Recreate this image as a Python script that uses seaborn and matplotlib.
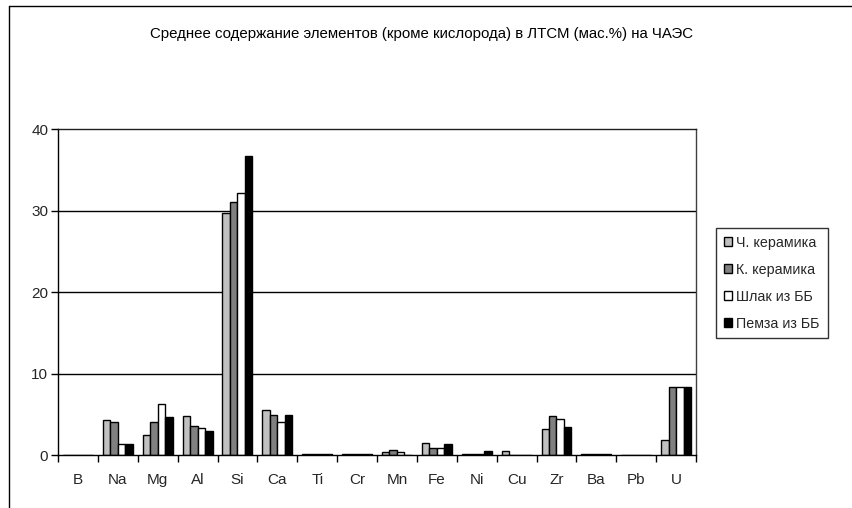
import matplotlib
matplotlib.use("Agg")
import matplotlib.pyplot as plt
from matplotlib.lines import Line2D
from matplotlib.ticker import FixedLocator, NullFormatter
import seaborn as sns
import pandas as pd

# Element composition, mass %
elements = ["B", "Na", "Mg", "Al", "Si", "Ca", "Ti", "Cr", "Mn", "Fe",
            "Ni", "Cu", "Zr", "Ba", "Pb", "U"]
ch_ceramics = [0, 4.3, 2.5, 4.8, 29.7, 5.5, 0.15, 0.15, 0.4, 1.45, 0.15, 0.55, 3.2, 0.15, 0, 1.8]
k_ceramics = [0, 4.1, 4.1, 3.55, 31.0, 4.85, 0.15, 0.15, 0.6, 0.9, 0.15, 0, 4.8, 0.15, 0, 8.4]
slag_bb = [0, 1.4, 6.25, 3.35, 32.2, 4.1, 0.15, 0.15, 0.4, 0.9, 0.15, 0, 4.45, 0.15, 0, 8.4]
pumice_bb = [0, 1.4, 4.65, 2.9, 36.7, 4.85, 0.15, 0.15, 0, 1.3, 0.45, 0, 3.4, 0.15, 0, 8.4]

series_names = ["Ч. керамика", "К. керамика", "Шлак из ББ", "Пемза из ББ"]
series_colors = ["#C0C0C0", "#808080", "#FFFFFF", "#000000"]
y_ticks = [0, 10, 20, 30, 40]

frames = []
for name, vals in zip(series_names, [ch_ceramics, k_ceramics, slag_bb, pumice_bb]):
    frames.append(pd.DataFrame({"element": elements, "value": vals, "series": name}))
df = pd.concat(frames, ignore_index=True)

sns.set_theme(style="white")
plt.rcParams["font.family"] = ["Liberation Sans", "DejaVu Sans"]

fig = plt.figure(figsize=(8.53, 5.08), dpi=100)
ax = fig.add_axes([0.068, 0.1043, 0.748, 0.6417])

sns.barplot(data=df, x="element", y="value", hue="series", order=elements,
            hue_order=series_names, palette=series_colors, width=0.75,
            edgecolor="black", linewidth=1.0, saturation=1, ax=ax)

ax.set_xlim(-0.5, len(elements) - 0.5)
ax.set_ylim(0, 40)
ax.set_yticks(y_ticks)
ax.set_yticklabels([str(v) for v in y_ticks], fontsize=11)
ax.set_xlabel("")
ax.set_ylabel("")

# Category labels centred, tick marks between categories
ax.set_xticks(range(len(elements)))
ax.set_xticklabels(elements, fontsize=11)
ax.tick_params(axis="x", which="major", length=0, pad=13)
ax.xaxis.set_minor_locator(FixedLocator([i + 0.5 for i in range(-1, len(elements))]))
ax.xaxis.set_minor_formatter(NullFormatter())
ax.tick_params(axis="x", which="minor", bottom=True, length=5, width=1, color="black", direction="out")
ax.tick_params(axis="y", left=True, length=5, width=1, color="black", direction="out", pad=2)

for v in y_ticks[1:-1]:
    ax.axhline(v, color="black", linewidth=1.0, zorder=0)

for side in ["left", "right", "top", "bottom"]:
    ax.spines[side].set_visible(True)
    ax.spines[side].set_color("black")
    ax.spines[side].set_linewidth(1.0)
ax.spines["right"].set_color("#404040")
ax.spines["top"].set_color("#202020")

ax.set_title("")
fig.text(0.494, 0.934, "Среднее содержание элементов (кроме кислорода) в ЛТСМ (мас.%) на ЧАЭС",
         ha="center", va="center", fontsize=10.8, color="black")

handles, labels = ax.get_legend_handles_labels()
leg = ax.legend(handles, labels, loc="upper left", bbox_to_anchor=(0.839, 0.551),
                bbox_transform=fig.transFigure, frameon=True, fancybox=False,
                edgecolor="black", fontsize=10.3, handlelength=0.6, handleheight=0.6,
                handletextpad=0.3, borderpad=0.55, labelspacing=0.9, borderaxespad=0)
leg.get_frame().set_linewidth(1.0)

# Outer chart frame (left and top edges)
fig.add_artist(Line2D([9 / 853, 9 / 853], [0, 1 - 6 / 508], transform=fig.transFigure,
                      color="black", linewidth=1.0))
fig.add_artist(Line2D([9 / 853, 1], [1 - 6 / 508, 1 - 6 / 508], transform=fig.transFigure,
                      color="black", linewidth=1.0))

fig.savefig("out.png", dpi=100, facecolor="white")
